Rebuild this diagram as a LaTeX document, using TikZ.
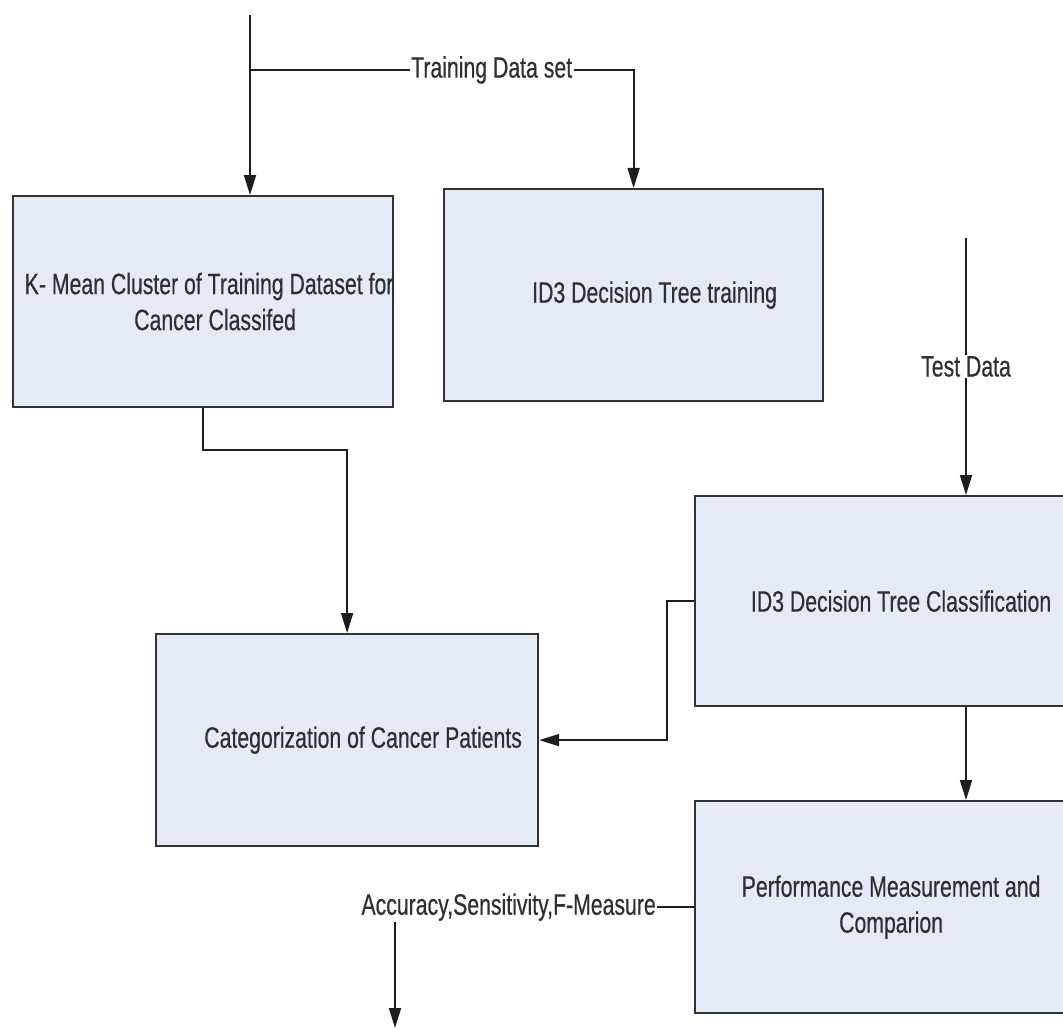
\documentclass[tikz,border=0pt]{standalone}
\usepackage{fontspec}
\setmainfont{Liberation Sans}[FakeStretch=0.72,FakeBold=0.4]
\usetikzlibrary{arrows.meta}
\definecolor{boxfill}{HTML}{E6EAF6}
\definecolor{edge}{HTML}{333333}
\definecolor{ink}{HTML}{2E2E33}
\definecolor{wire}{HTML}{1E1E1E}
\begin{document}
\begin{tikzpicture}[x=1pt,y=-1pt,
  box/.style={draw=edge,line width=2.2pt,fill=boxfill,inner sep=0pt,anchor=north west},
  txt/.style={text=ink,font=\fontsize{29.5}{36}\selectfont,align=center,inner sep=0pt},
  lbl/.style={text=ink,font=\fontsize{29.5}{36}\selectfont,fill=white,inner sep=1.5pt},
  wireline/.style={draw=wire,line width=1.8pt},
  arr/.style={wireline,-{Triangle[width=12pt,length=20pt]}}]
\useasboundingbox (0,0) rectangle (1063,1030);
\clip (0,0) rectangle (1063,1030);
% boxes
\node[box,minimum width=380pt,minimum height=211pt,
  label={[txt,xshift=6pt]center:K- Mean Cluster of Training Dataset for\\\hspace*{12pt}Cancer Classifed}] (b1) at (12,195) {};
\node[box,minimum width=379pt,minimum height=212pt,
  label={[txt,xshift=21pt]center:ID3 Decision Tree training}] (b2) at (443,188) {};
\node[box,minimum width=412pt,minimum height=210pt,
  label={[txt]center:ID3 Decision Tree Classification}] (b3) at (694,495) {};
\node[box,minimum width=382pt,minimum height=212pt,
  label={[txt,xshift=16pt]center:Categorization of Cancer Patients}] (b4) at (155,633) {};
\node[box,minimum width=412pt,minimum height=212pt,
  label={[txt,xshift=-10pt]center:Performance Measurement and\\Comparion}] (b5) at (694,800) {};
% input coordinates
\coordinate (top) at (250,15);
\coordinate (td) at (966,238);
\coordinate (acc) at (395,1028);
% connectors
\draw[arr] (top) -- (top |- b1.north);
\draw[arr] (top |- 0,70) -- node[lbl,pos=0.63]{Training Data set} (b2.north |- 0,70) -- (b2.north);
\draw[arr] (b1.south) -- ++(0,42) -| (b4.north);
\draw[arr] (td) -- node[lbl]{Test Data} (td |- b3.north);
\draw[arr] (b3.west) -- ++(-27,0) |- (b4.east);
\draw[arr] (td |- b3.south) -- (td |- b5.north);
\draw[arr] (b5.west) -| node[lbl,pos=0.31]{Accuracy,Sensitivity,F-Measure} (acc);
\end{tikzpicture}
\end{document}
